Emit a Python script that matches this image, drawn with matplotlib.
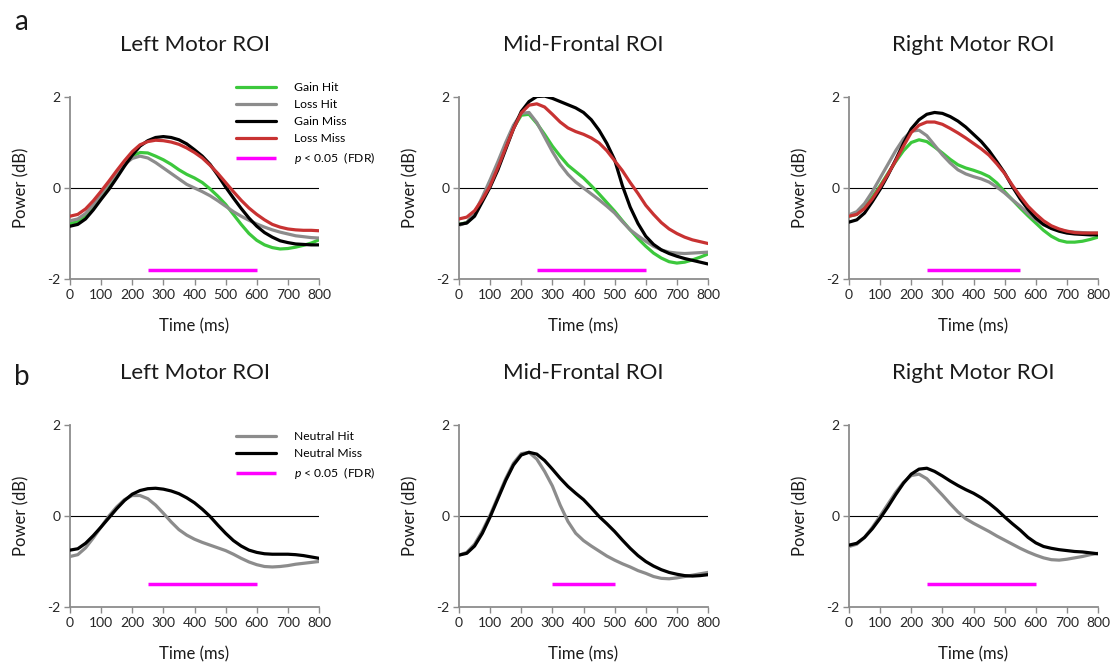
import numpy as np
import matplotlib
matplotlib.use("Agg")
import matplotlib.pyplot as plt

plt.rcParams['font.family'] = ['Lato', 'DejaVu Sans']
plt.rcParams['mathtext.fontset'] = 'custom'
plt.rcParams['mathtext.it'] = 'Lato:italic'

# ---------------- data ----------------
time_ms = np.arange(0, 801, 25)

titles = ["Left Motor ROI", "Mid-Frontal ROI", "Right Motor ROI"]

# Row a: reward conditions
a_left_gain_hit = [-0.78, -0.74, -0.62, -0.42, -0.18, 0.06, 0.30, 0.52, 0.70, 0.78, 0.77, 0.70, 0.62, 0.52, 0.40, 0.30, 0.22, 0.12, -0.02, -0.18, -0.36, -0.58, -0.80, -1.00, -1.15, -1.25, -1.31, -1.34, -1.33, -1.30, -1.26, -1.21, -1.14]
a_left_loss_hit = [-0.72, -0.68, -0.56, -0.37, -0.14, 0.10, 0.33, 0.52, 0.65, 0.70, 0.66, 0.56, 0.44, 0.32, 0.20, 0.08, 0.00, -0.08, -0.17, -0.28, -0.40, -0.52, -0.62, -0.71, -0.79, -0.86, -0.92, -0.97, -1.01, -1.05, -1.07, -1.09, -1.10]
a_left_gain_miss = [-0.84, -0.80, -0.68, -0.48, -0.25, -0.03, 0.22, 0.48, 0.72, 0.92, 1.04, 1.11, 1.13, 1.11, 1.06, 0.97, 0.84, 0.70, 0.52, 0.28, 0.02, -0.22, -0.45, -0.66, -0.84, -0.98, -1.08, -1.16, -1.20, -1.23, -1.24, -1.25, -1.25]
a_left_loss_miss = [-0.62, -0.58, -0.46, -0.28, -0.07, 0.15, 0.38, 0.60, 0.80, 0.95, 1.02, 1.05, 1.04, 1.01, 0.96, 0.88, 0.78, 0.66, 0.50, 0.32, 0.12, -0.08, -0.27, -0.44, -0.58, -0.70, -0.80, -0.86, -0.90, -0.92, -0.93, -0.93, -0.94]

a_mid_gain_hit = [-0.80, -0.76, -0.58, -0.25, 0.10, 0.50, 0.92, 1.32, 1.60, 1.62, 1.42, 1.18, 0.92, 0.70, 0.50, 0.36, 0.22, 0.05, -0.13, -0.32, -0.51, -0.72, -0.92, -1.11, -1.28, -1.43, -1.54, -1.62, -1.65, -1.63, -1.58, -1.52, -1.45]
a_mid_loss_hit = [-0.82, -0.76, -0.55, -0.20, 0.18, 0.58, 1.00, 1.38, 1.64, 1.66, 1.44, 1.12, 0.80, 0.52, 0.30, 0.13, 0.00, -0.13, -0.26, -0.40, -0.55, -0.74, -0.92, -1.05, -1.17, -1.28, -1.36, -1.41, -1.43, -1.44, -1.43, -1.42, -1.41]
a_mid_gain_miss = [-0.80, -0.77, -0.62, -0.30, 0.02, 0.40, 0.85, 1.30, 1.68, 1.90, 2.01, 2.02, 1.97, 1.90, 1.83, 1.76, 1.66, 1.50, 1.27, 0.98, 0.62, 0.05, -0.42, -0.78, -1.06, -1.24, -1.36, -1.44, -1.50, -1.55, -1.59, -1.63, -1.67]
a_mid_loss_miss = [-0.68, -0.64, -0.50, -0.25, 0.05, 0.45, 0.88, 1.30, 1.65, 1.82, 1.85, 1.78, 1.62, 1.45, 1.32, 1.24, 1.18, 1.10, 0.99, 0.82, 0.60, 0.38, 0.12, -0.12, -0.38, -0.58, -0.76, -0.90, -1.00, -1.08, -1.14, -1.18, -1.22]

a_right_gain_hit = [-0.62, -0.58, -0.43, -0.20, 0.05, 0.32, 0.58, 0.82, 1.00, 1.06, 1.02, 0.90, 0.77, 0.63, 0.51, 0.44, 0.39, 0.33, 0.25, 0.11, -0.08, -0.26, -0.44, -0.61, -0.77, -0.93, -1.06, -1.15, -1.19, -1.19, -1.17, -1.13, -1.08]
a_right_loss_hit = [-0.59, -0.52, -0.34, -0.08, 0.22, 0.52, 0.82, 1.08, 1.25, 1.27, 1.15, 0.94, 0.73, 0.55, 0.40, 0.31, 0.25, 0.20, 0.13, 0.02, -0.11, -0.26, -0.40, -0.56, -0.70, -0.81, -0.88, -0.92, -0.95, -0.97, -0.98, -0.99, -0.99]
a_right_gain_miss = [-0.75, -0.70, -0.55, -0.30, -0.03, 0.28, 0.62, 0.98, 1.30, 1.50, 1.62, 1.66, 1.64, 1.57, 1.47, 1.34, 1.18, 1.02, 0.82, 0.58, 0.33, 0.03, -0.24, -0.47, -0.66, -0.80, -0.89, -0.95, -0.99, -1.01, -1.02, -1.03, -1.03]
a_right_loss_miss = [-0.62, -0.58, -0.45, -0.24, 0.02, 0.30, 0.60, 0.92, 1.22, 1.38, 1.45, 1.45, 1.40, 1.31, 1.21, 1.10, 0.98, 0.86, 0.72, 0.53, 0.32, 0.06, -0.18, -0.40, -0.57, -0.72, -0.83, -0.90, -0.95, -0.98, -0.99, -0.99, -0.99]

# Row b: neutral conditions
b_left_neutral_hit = [-0.89, -0.85, -0.70, -0.48, -0.24, 0.00, 0.20, 0.36, 0.45, 0.45, 0.38, 0.24, 0.06, -0.13, -0.30, -0.42, -0.51, -0.58, -0.64, -0.70, -0.76, -0.84, -0.93, -1.01, -1.07, -1.11, -1.12, -1.11, -1.09, -1.06, -1.04, -1.02, -1.00]
b_left_neutral_miss = [-0.75, -0.72, -0.60, -0.43, -0.24, -0.04, 0.16, 0.34, 0.48, 0.56, 0.60, 0.61, 0.59, 0.55, 0.49, 0.40, 0.29, 0.15, -0.01, -0.20, -0.38, -0.54, -0.66, -0.75, -0.80, -0.83, -0.84, -0.84, -0.84, -0.85, -0.87, -0.90, -0.93]
b_mid_neutral_hit = [-0.86, -0.80, -0.62, -0.33, 0.02, 0.42, 0.82, 1.16, 1.37, 1.40, 1.25, 0.98, 0.66, 0.24, -0.12, -0.38, -0.54, -0.66, -0.77, -0.88, -0.97, -1.05, -1.12, -1.20, -1.26, -1.33, -1.37, -1.38, -1.36, -1.33, -1.30, -1.27, -1.24]
b_mid_neutral_miss = [-0.86, -0.82, -0.66, -0.38, -0.02, 0.38, 0.78, 1.12, 1.34, 1.40, 1.36, 1.22, 1.03, 0.83, 0.65, 0.50, 0.36, 0.18, -0.01, -0.17, -0.34, -0.53, -0.71, -0.87, -1.00, -1.10, -1.18, -1.24, -1.28, -1.31, -1.32, -1.31, -1.29]
b_right_neutral_hit = [-0.67, -0.62, -0.47, -0.25, 0.00, 0.26, 0.52, 0.74, 0.89, 0.92, 0.82, 0.64, 0.46, 0.27, 0.09, -0.06, -0.16, -0.25, -0.34, -0.44, -0.53, -0.62, -0.71, -0.79, -0.86, -0.92, -0.96, -0.97, -0.95, -0.92, -0.89, -0.85, -0.82]
b_right_neutral_miss = [-0.64, -0.60, -0.47, -0.28, -0.05, 0.20, 0.47, 0.72, 0.92, 1.03, 1.05, 0.98, 0.88, 0.77, 0.67, 0.58, 0.50, 0.40, 0.28, 0.14, -0.02, -0.17, -0.31, -0.47, -0.59, -0.67, -0.71, -0.74, -0.76, -0.78, -0.79, -0.81, -0.83]

# significance windows (ms) and level (dB)
a_sig_windows = [(250, 600), (250, 600), (250, 550)]
a_sig_level = -1.8
b_sig_windows = [(250, 600), (300, 500), (250, 600)]
b_sig_level = -1.5

a_labels = ["Gain Hit", "Loss Hit", "Gain Miss", "Loss Miss"]
b_labels = ["Neutral Hit", "Neutral Miss"]
sig_label = r"$p$ < 0.05  (FDR)"

# ---------------- style ----------------
C_GREEN = "#3CC83C"
C_GRAY = "#8C8C8C"
C_BLACK = "#000000"
C_RED = "#C83232"
C_MAG = "#FF00FF"
LW = 2.3

a_colors = [C_GREEN, C_GRAY, C_BLACK, C_RED]
b_colors = [C_GRAY, C_BLACK]

a_data = [
    [a_left_gain_hit, a_left_loss_hit, a_left_gain_miss, a_left_loss_miss],
    [a_mid_gain_hit, a_mid_loss_hit, a_mid_gain_miss, a_mid_loss_miss],
    [a_right_gain_hit, a_right_loss_hit, a_right_gain_miss, a_right_loss_miss],
]
b_data = [
    [b_left_neutral_hit, b_left_neutral_miss],
    [b_mid_neutral_hit, b_mid_neutral_miss],
    [b_right_neutral_hit, b_right_neutral_miss],
]

W, H = 1113, 663
fig = plt.figure(figsize=(W / 100, H / 100), dpi=100)

col_x = [70, 459, 849]
ax_w = 249
rows = [(97, 279), (425, 607)]


def make_ax(x0, ytop, ybot):
    return fig.add_axes([x0 / W, 1 - ybot / H, ax_w / W, (ybot - ytop) / H])


def style(ax, title):
    ax.set_xlim(0, 800)
    ax.set_ylim(-2, 2)
    ax.set_xticks(np.arange(0, 801, 100))
    ax.set_yticks([-2, 0, 2])
    ax.set_yticklabels(["-2", "0", "2"])
    for s in ["top", "right"]:
        ax.spines[s].set_visible(False)
    for s in ["left", "bottom"]:
        ax.spines[s].set_color("#8C8C8C")
        ax.spines[s].set_linewidth(1.3)
    ax.tick_params(axis="both", colors="#8C8C8C", labelcolor="#262626",
                   labelsize=10, length=4, width=1.0, direction="out", pad=3)
    ax.axhline(0, color="black", lw=0.8, zorder=1)
    ax.set_xlabel("Time (ms)", fontsize=12, color="#1a1a1a", labelpad=12.5)
    ax.set_ylabel("Power (dB)", fontsize=12, color="#1a1a1a", labelpad=13)
    ax.set_title(title, fontsize=16, color="#1a1a1a", pad=33)


axes_a = []
for i in range(3):
    ax = make_ax(col_x[i], *rows[0])
    handles = []
    for series, col, lab in zip(a_data[i], a_colors, a_labels):
        h, = ax.plot(time_ms, series, color=col, lw=LW, label=lab, zorder=3,
                     solid_capstyle="round")
        handles.append(h)
    s0, s1 = a_sig_windows[i]
    hs, = ax.plot([s0, s1], [a_sig_level, a_sig_level], color=C_MAG, lw=2.5,
                  label=sig_label, zorder=3, solid_capstyle="butt")
    handles.append(hs)
    style(ax, titles[i])
    axes_a.append((ax, handles))

axes_b = []
for i in range(3):
    ax = make_ax(col_x[i], *rows[1])
    handles = []
    for series, col, lab in zip(b_data[i], b_colors, b_labels):
        h, = ax.plot(time_ms, series, color=col, lw=LW, label=lab, zorder=3,
                     solid_capstyle="round")
        handles.append(h)
    s0, s1 = b_sig_windows[i]
    hs, = ax.plot([s0, s1], [b_sig_level, b_sig_level], color=C_MAG, lw=2.5,
                  label=sig_label, zorder=3, solid_capstyle="butt")
    handles.append(hs)
    style(ax, titles[i])
    axes_b.append((ax, handles))

# legends
legkw = dict(loc="upper left", frameon=False, fontsize=8.7, handlelength=3.3,
             handletextpad=1.5, labelspacing=0.5, borderpad=0, borderaxespad=0)
ax, hs = axes_a[0]
ax.legend(handles=hs, bbox_to_anchor=(236 / W, 1 - 82 / H),
          bbox_transform=fig.transFigure, **legkw)
ax, hs = axes_b[0]
ax.legend(handles=hs, bbox_to_anchor=(236 / W, 1 - 431 / H),
          bbox_transform=fig.transFigure, **legkw)

fig.text(14 / W, 1 - 22 / H, "a", fontsize=20, va="center", ha="left", color="#1a1a1a")
fig.text(14 / W, 1 - 377 / H, "b", fontsize=20, va="center", ha="left", color="#1a1a1a")

fig.savefig("out.png", dpi=100)
